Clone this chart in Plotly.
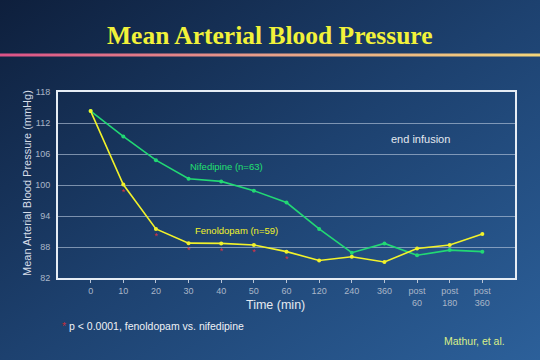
import base64
import plotly.graph_objects as go

# ---- data ----
time_labels = ["0", "10", "20", "30", "40", "50", "60", "120", "240", "360",
               "post<br>60", "post<br>180", "post<br>360"]
nifedipine = [114.3, 109.4, 104.8, 101.2, 100.7, 98.9, 96.6, 91.5, 86.9, 88.7, 86.4, 87.4, 87.1]
fenoldopam = [114.3, 100.1, 91.5, 88.75, 88.7, 88.4, 87.1, 85.4, 86.1, 85.1, 87.7, 88.4, 90.5]
signif_marks = ["", "*", "*", "*", "*", "*", "*", "", "", "", "", "", ""]
y_ticks = [82, 88, 94, 100, 106, 112, 118]

W, H = 540, 360
L, R, T, B = 58, 25, 92, 82
pw, ph = W - L - R, H - T - B

svg = f"""<svg xmlns='http://www.w3.org/2000/svg' width='{W}' height='{H}' viewBox='0 0 {W} {H}' preserveAspectRatio='none'>
<defs>
<linearGradient id='bg' x1='0' y1='0' x2='1' y2='1'>
<stop offset='0' stop-color='#0e1f3c'/>
<stop offset='0.5' stop-color='#1d416f'/>
<stop offset='1' stop-color='#2c609a'/>
</linearGradient>
<linearGradient id='ln' x1='0' y1='0' x2='1' y2='0'>
<stop offset='0' stop-color='#dc5288'/>
<stop offset='0.5' stop-color='#e8a08a'/>
<stop offset='1' stop-color='#f4d67a'/>
</linearGradient>
</defs>
<rect x='0' y='0' width='{W}' height='{H}' fill='url(#bg)'/>
<rect x='0' y='53.5' width='{W}' height='3' fill='url(#ln)'/>
</svg>"""
src = "data:image/svg+xml;base64," + base64.b64encode(svg.encode()).decode()

fig = go.Figure()
fig.add_trace(go.Scatter(
    x=time_labels, y=nifedipine, mode="lines+markers",
    line=dict(color="#22d874", width=1.6),
    marker=dict(size=4, color="#22d874"), showlegend=False, hoverinfo="skip"))
fig.add_trace(go.Scatter(
    x=time_labels, y=fenoldopam, mode="lines+markers+text",
    text=signif_marks, textposition="bottom center",
    textfont=dict(color="#d83040", size=9, family="Liberation Sans"),
    line=dict(color="#f2f22a", width=1.6),
    marker=dict(size=4, color="#f2f22a"), showlegend=False, hoverinfo="skip"))

fig.add_shape(type="line", xref="x", yref="paper", x0="360", x1="360", y0=0, y1=1,
              line=dict(color="rgba(205,215,235,0.75)", width=1))

font = "Liberation Sans, Arial, sans-serif"
ann = [
    dict(text="<b>Mean Arterial Blood Pressure</b>", x=270, y=35,
         font=dict(family="Liberation Serif, Times New Roman, serif", size=25.5, color="#f2f23a")),
    dict(text="Mean Arterial Blood Pressure (mmHg)", x=27, y=183, textangle=-90,
         font=dict(family=font, size=11, color="#d6dde8")),
    dict(text="Time (min)", x=275, y=305, font=dict(family=font, size=12.5, color="#e4e9f0")),
    dict(text="end infusion", x=420, y=139, font=dict(family=font, size=11, color="#e4e9f0")),
    dict(text="Nifedipine (n=63)", x=226, y=166, font=dict(family=font, size=9.5, color="#22e070")),
    dict(text="Fenoldopam (n=59)", x=236, y=230, font=dict(family=font, size=9.5, color="#f2f22a")),
    dict(text="<span style='color:#c0303c'>*</span> p < 0.0001, fenoldopam vs. nifedipine",
         x=60, y=326, xanchor="left", font=dict(family=font, size=10.5, color="#eef1f6")),
    dict(text="Mathur, et al.", x=474, y=341, font=dict(family=font, size=10.5, color="#d8ee88")),
]
annotations = []
for a in ann:
    px, py = a.pop("x"), a.pop("y")
    d = dict(xref="paper", yref="paper", x=(px - L) / pw, y=1 - (py - T) / ph,
             showarrow=False, xanchor="center", yanchor="middle")
    d.update(a)
    annotations.append(d)

fig.update_layout(
    width=W, height=H,
    margin=dict(l=L, r=R, t=T, b=B, pad=0),
    paper_bgcolor="#1a3a66", plot_bgcolor="rgba(0,0,0,0)",
    images=[dict(source=src, xref="paper", yref="paper", x=-L / pw, y=1 + T / ph,
                 sizex=W / pw, sizey=H / ph, xanchor="left", yanchor="top",
                 sizing="stretch", layer="below")],
    annotations=annotations,
    hovermode=False,
    xaxis=dict(type="category", range=[-1, 13], showgrid=False, zeroline=False,
               showline=True, mirror=True, linecolor="#e6edf5", linewidth=2,
               ticks="outside", ticklen=3, tickcolor="#b8c4d6",
               tickfont=dict(family=font, size=9, color="#aab6c8")),
    yaxis=dict(range=[82, 118], tickvals=y_ticks, showgrid=True,
               gridcolor="rgba(190,205,225,0.6)", gridwidth=1, zeroline=False,
               showline=True, mirror=True, linecolor="#e6edf5", linewidth=2,
               ticks="", ticklabelstandoff=4,
               tickfont=dict(family=font, size=9, color="#aab6c8")),
)
fig.write_html("out.html", config={"displayModeBar": False, "staticPlot": True},
               post_script="document.body.style.margin='0';document.body.style.padding='0';"
                           "document.documentElement.style.overflow='hidden';")
